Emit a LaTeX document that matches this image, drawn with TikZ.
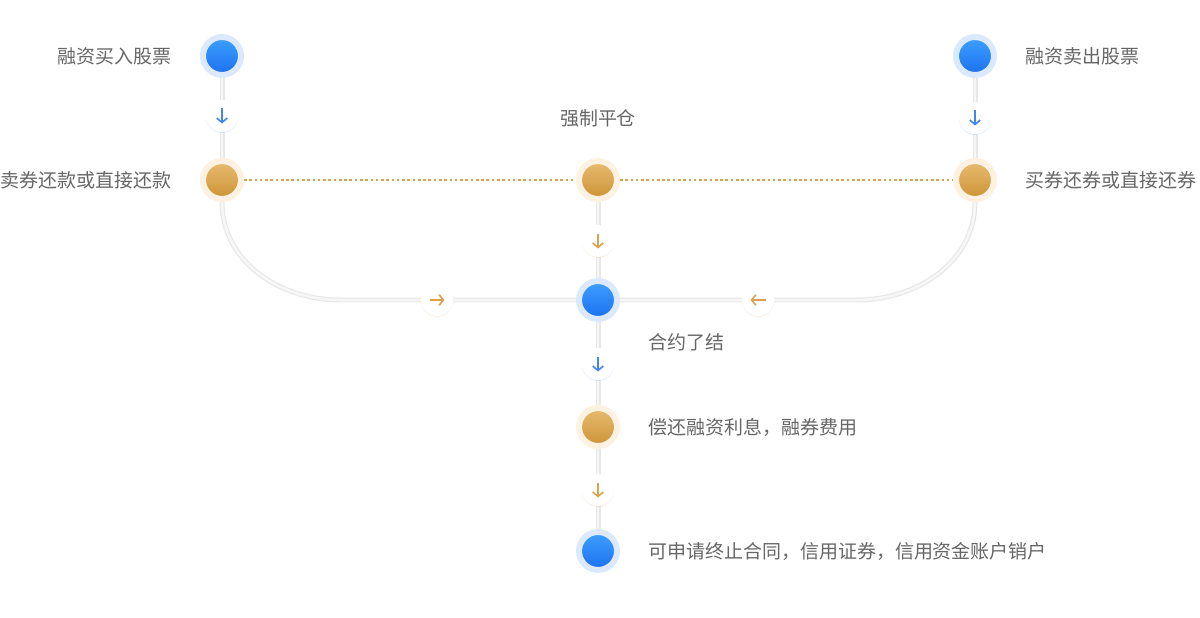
\documentclass[tikz,border=0pt]{standalone}
\usepackage{fontspec}
\setmainfont{Noto Sans CJK SC}
\usetikzlibrary{positioning,arrows.meta,shadows,backgrounds}

\definecolor{dotblueA}{HTML}{3FA0FF}
\definecolor{dotblueB}{HTML}{1A70F0}
\definecolor{haloblue}{HTML}{DCE9FD}
\definecolor{dotgoldA}{HTML}{E8BC72}
\definecolor{dotgoldB}{HTML}{CC9234}
\definecolor{halogold}{HTML}{FDF2E1}
\definecolor{arrowblue}{HTML}{3F86EE}
\definecolor{arrowgold}{HTML}{D9A24E}
\definecolor{labelgray}{HTML}{666666}

\tikzset{
  bluedot/.style={circle, inner sep=0pt, minimum size=0.76cm, top color=dotblueA, bottom color=dotblueB, draw=haloblue, line width=0.12cm},
  golddot/.style={circle, inner sep=0pt, minimum size=0.76cm, top color=dotgoldA, bottom color=dotgoldB, draw=halogold, line width=0.12cm},
  badge/.style 2 args={circle, inner sep=0pt, minimum size=0.64cm, fill=white,
    drop shadow={shadow xshift=0pt, shadow yshift=-0.5pt, opacity=0.18, fill=#1},
    path picture={\draw[#1, line width=0.9pt, -{Straight Barb[length=2.5pt,width=6pt]}]
      (path picture bounding box.center) ++(#2:-0.15cm) -- ++(#2:0.3cm);}},
  track/.style={draw=black!9, double=black!3, double distance=0.05cm, line width=0.025cm},
  dotline/.style={draw=arrowgold, line width=0.6pt, dash pattern=on 1.5pt off 1.5pt},
  txt/.style={text=labelgray, font=\fontsize{10.8pt}{13pt}\selectfont, inner sep=0pt}
}

\begin{document}
\begin{tikzpicture}[x=0.02cm, y=-0.02cm]
  \useasboundingbox (0,0) rectangle (1200,618);

  % left column
  \node[bluedot] (buyin) at (222,56) {};
  \node[badge={arrowblue}{-90}] (arrL) at (222,116) {};
  \node[golddot] (repayL) at (222,180) {};

  % right column
  \node[bluedot] (sellout) at (975,56) {};
  \node[badge={arrowblue}{-90}] (arrR) at (975,118) {};
  \node[golddot] (repayR) at (975,180) {};

  % center column
  \node[golddot] (force) at (598,180) {};
  \node[badge={arrowgold}{-90}] (arrC1) at (598,241) {};
  \node[bluedot] (settle) at (598,300) {};
  \node[badge={arrowblue}{-90}] (arrC2) at (598,364) {};
  \node[golddot] (interest) at (598,427) {};
  \node[badge={arrowgold}{-90}] (arrC3) at (598,490) {};
  \node[bluedot] (close) at (598,551) {};

  % curve ends
  \coordinate (bendL) at (340,300);
  \coordinate (bendR) at (857,300);

  % tracks
  \begin{scope}[on background layer]
    \draw[track] (buyin) -- (repayL);
    \draw[track] (sellout) -- (repayR);
    \draw[track] (force) -- (close);
    \draw[track] (repayL.south) to[out=-90, in=180] (bendL) -- (settle);
    \draw[track] (repayR.south) to[out=-90, in=0] (bendR) -- (settle);
  \end{scope}
  \node[badge={arrowgold}{0}] (arrH1) at (437,300) {};
  \node[badge={arrowgold}{180}] (arrH2) at (758,300) {};

  % dotted link
  \draw[dotline] (repayL) -- (force);
  \draw[dotline] (force) -- (repayR);

  % labels
  \node[txt, anchor=east] at (172,56) {融资买入股票};
  \node[txt, anchor=east] at (172,180) {卖券还款或直接还款};
  \node[txt, anchor=west] at (1025,56) {融资卖出股票};
  \node[txt, anchor=west] at (1025,180) {买券还券或直接还券};
  \node[txt] at (598,118) {强制平仓};
  \node[txt, anchor=west] at (648,342) {合约了结};
  \node[txt, anchor=west] at (648,427) {偿还融资利息，融券费用};
  \node[txt, anchor=west] at (648,551) {可申请终止合同，信用证券，信用资金账户销户};
\end{tikzpicture}
\end{document}
